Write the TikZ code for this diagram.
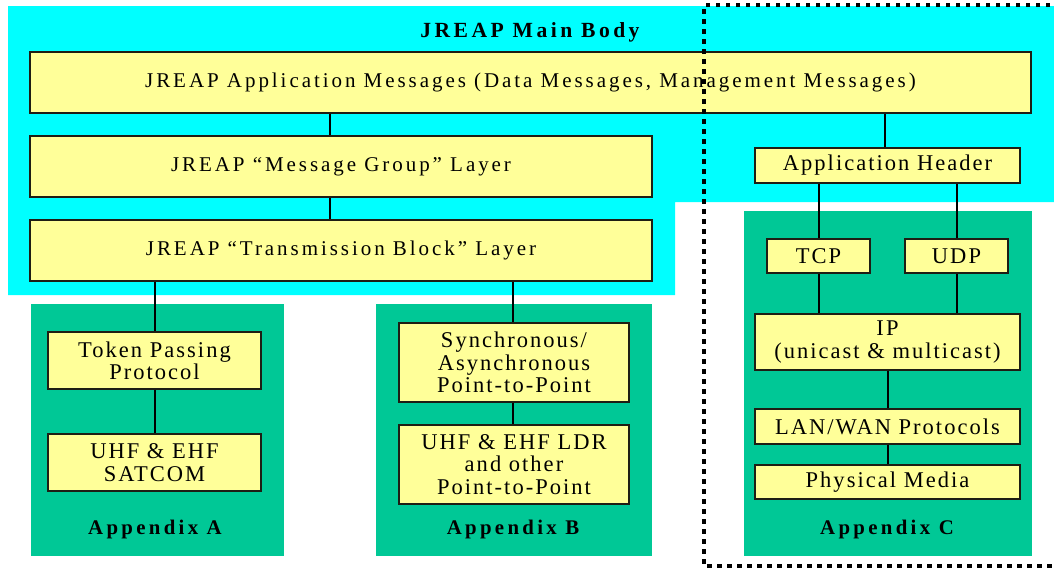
\documentclass[tikz,border=0pt]{standalone}
\usepackage{fontspec}
\setmainfont{Liberation Serif}
\newfontfamily\mainf[LetterSpace=14]{Liberation Serif}
\newfontfamily\lowf[LetterSpace=9]{Liberation Serif}
\newfontfamily\boldf[LetterSpace=16]{Liberation Serif Bold}
\definecolor{cyanbg}{RGB}{0,255,255}
\definecolor{greenbg}{RGB}{0,200,150}
\definecolor{boxfill}{RGB}{255,255,153}
\definecolor{boxline}{RGB}{30,30,20}
\begin{document}
\begin{tikzpicture}[x=1pt,y=-1pt,
  ybox/.style={draw=boxline,line width=1.4pt,fill=boxfill,inner sep=0pt,align=center,anchor=center},
  bigtxt/.style={font=\mainf\fontsize{21}{24}\selectfont},
  smtxt/.style={font=\lowf\fontsize{22.5}{22.3}\selectfont},
  lbl/.style={font=\boldf\fontsize{20.8}{22}\selectfont,inner sep=0pt},
  conn/.style={line width=2pt,black},
  dotline/.style={line width=4.5pt,dash pattern=on 4.5pt off 5.5pt}]
\useasboundingbox (0,0) rectangle (1054,568);
% backgrounds
\fill[cyanbg] (8,6) -- (1054,6) -- (1054,202) -- (675,202) -- (675,295) -- (8,295) -- cycle;
\fill[greenbg] (31,304) rectangle (284,556);
\fill[greenbg] (376,304) rectangle (652,556);
\fill[greenbg] (744,211) rectangle (1032,556);
% labels
\node[lbl,font=\boldf\fontsize{21.6}{22}\selectfont] (title) at (530,32) {JREAP Main Body};
\node[lbl] (apxA) at (155,529) {Appendix A};
\node[lbl] (apxB) at (513,529) {Appendix B};
\node[lbl] (apxC) at (887,529) {Appendix C};
% boxes
\node[ybox,bigtxt,minimum width=1001pt,minimum height=61pt] (app) at (530.5,82.5) {JREAP Application Messages (Data Messages, Management Messages)};
\node[ybox,bigtxt,minimum width=622pt,minimum height=61pt] (mg) at (341,166.5) {JREAP “Message Group” Layer};
\node[ybox,bigtxt,minimum width=622pt,minimum height=61pt] (tb) at (341,250.5) {JREAP “Transmission Block” Layer};
\node[ybox,smtxt,minimum width=265pt,minimum height=35pt] (ah) at (887.5,165.5) {Application Header};
\node[ybox,smtxt,minimum width=103pt,minimum height=34pt] (tcp) at (818.5,256) {TCP};
\node[ybox,smtxt,minimum width=103pt,minimum height=34pt] (udp) at (956.5,256) {UDP};
\node[ybox,smtxt,minimum width=265pt,minimum height=56pt] (ip) at (887.5,342) {IP\\(unicast \& multicast)};
\node[ybox,smtxt,minimum width=265pt,minimum height=35pt] (lan) at (887.5,426.5) {LAN/WAN Protocols};
\node[ybox,smtxt,minimum width=265pt,minimum height=34pt] (phys) at (887.5,482) {Physical Media};
\node[ybox,smtxt,minimum width=213pt,minimum height=57pt] (tok) at (154.5,360.5) {Token Passing\\Protocol};
\node[ybox,smtxt,minimum width=213pt,minimum height=57pt] (uhfA) at (154.5,462.5) {UHF \& EHF\\SATCOM};
\node[ybox,smtxt,minimum width=230pt,minimum height=79pt] (sync) at (514,362.5) {Synchronous/\\Asynchronous\\Point-to-Point};
\node[ybox,smtxt,minimum width=230pt,minimum height=79pt] (uhfB) at (514,464.5) {UHF \& EHF LDR\\and other\\Point-to-Point};
% connectors
\draw[conn] (app.south -| 330,0) -- (mg.north -| 330,0);
\draw[conn] (mg.south -| 330,0) -- (tb.north -| 330,0);
\draw[conn] (tb.south -| tok.north) -- (tok.north);
\draw[conn] (tok.south) -- (uhfA.north);
\draw[conn] (tb.south -| 513,0) -- (sync.north -| 513,0);
\draw[conn] (sync.south -| 513,0) -- (uhfB.north -| 513,0);
\draw[conn] (app.south -| 885,0) -- (ah.north -| 885,0);
\draw[conn] (ah.south -| tcp.north) -- (tcp.north);
\draw[conn] (ah.south -| udp.north) -- (udp.north);
\draw[conn] (tcp.south) -- (ip.north -| tcp.south);
\draw[conn] (udp.south) -- (ip.north -| udp.south);
\draw[conn] (ip.south) -- (lan.north);
\draw[conn] (lan.south) -- (phys.north);
% dotted frame
\coordinate (dtr) at (1060,5);
\coordinate (dtl) at (704,5);
\coordinate (dbl) at (704,566);
\coordinate (dbr) at (1060,566);
\draw[dotline] (dtr) -- (dtl) -- (dbl) -- (dbr);
\end{tikzpicture}
\end{document}
